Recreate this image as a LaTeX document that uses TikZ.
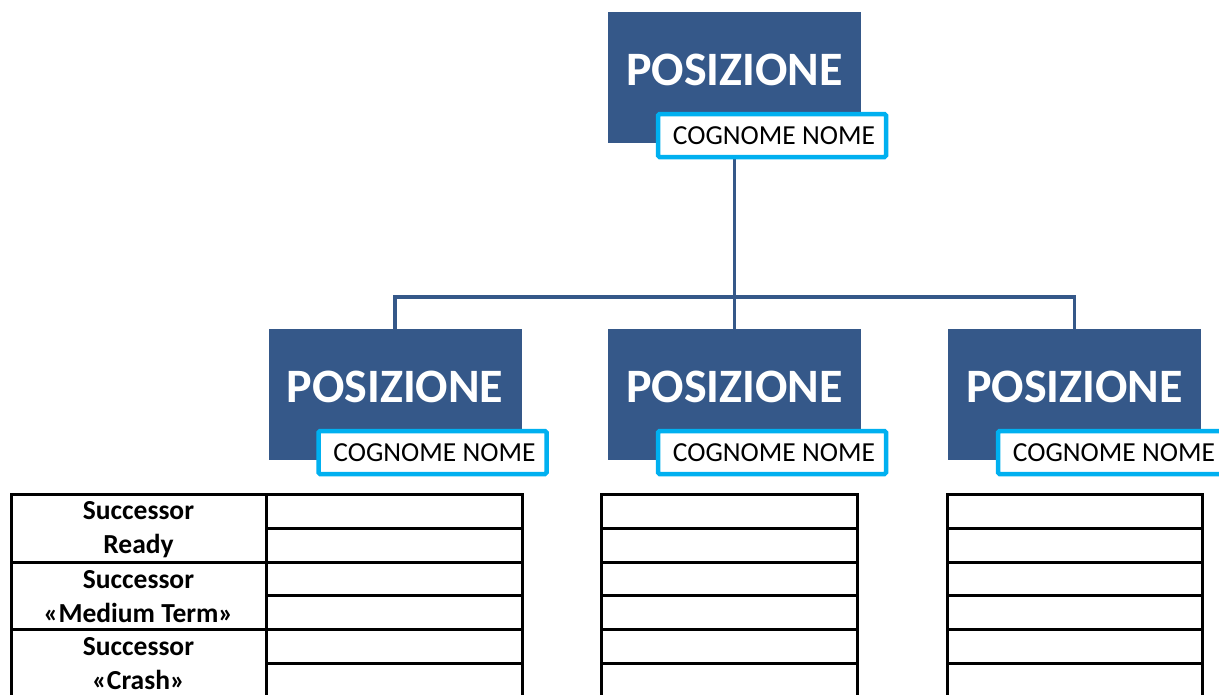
\documentclass[tikz,border=0pt]{standalone}
\usepackage{fontspec}
\setmainfont{Carlito}
\usetikzlibrary{calc}
\definecolor{boxblue}{RGB}{53,88,137}
\definecolor{nameblue}{RGB}{0,176,240}
\tikzset{
  posbox/.style={fill=boxblue, draw=none, minimum width=253pt, minimum height=131pt, inner sep=0pt},
  postext/.style={text=white, font=\fontsize{48}{52}\selectfont\bfseries, inner sep=0pt},
  namebox/.style={draw=nameblue, line width=4.5pt, fill=white, rounded corners=1.5pt, minimum width=228pt, minimum height=43pt, inner sep=0pt},
  nametext/.style={font=\fontsize{27.5}{30}\selectfont, anchor=west, inner sep=0pt},
  conn/.style={draw=boxblue, line width=3.5pt},
  grid/.style={draw=black, line width=3pt},
  lbl/.style={font=\fontsize{27.5}{34}\selectfont\bfseries, align=center, inner sep=0pt}
}
\begin{document}
\begin{tikzpicture}[x=1pt,y=-1pt]
\useasboundingbox (0,0) rectangle (1219,694);
% position boxes
\node[posbox] (p0) at (734.5,77.5) {};
\node[posbox] (p1) at (395,394.5) {};
\node[posbox] (p2) at (734.5,394.5) {};
\node[posbox] (p3) at (1074.5,394.5) {};
% connectors
\draw[conn] (p0.south) -- (p2.north);
\draw[conn] (p1.north) -- ++(0,-32) -| (p3.north);
% redraw boxes over line ends
\node[posbox] at (p0) {};
\node[posbox] at (p1) {};
\node[posbox] at (p2) {};
\node[posbox] at (p3) {};
\node[postext] (t0) at ($(p0.center)+(0,-8)$) {POSIZIONE};
\node[postext] (t1) at ($(p1.center)+(0,-8)$) {POSIZIONE};
\node[postext] (t2) at ($(p2.center)+(0,-8)$) {POSIZIONE};
\node[postext] (t3) at ($(p3.center)+(0,-8)$) {POSIZIONE};
% name boxes
\node[namebox] (n0) at (772,135.5) {};
\node[namebox] (n1) at (432.5,452.5) {};
\node[namebox] (n2) at (772,452.5) {};
\node[namebox] (n3) at (1112,452.5) {};
\node[nametext] (m0) at ($(n0.west)+(17,0)$) {COGNOME NOME};
\node[nametext] (m1) at ($(n1.west)+(17,0)$) {COGNOME NOME};
\node[nametext] (m2) at ($(n2.west)+(17,0)$) {COGNOME NOME};
\node[nametext] (m3) at ($(n3.west)+(17,0)$) {COGNOME NOME};
% left table
\draw[grid] (11,494) rectangle (522,698);
\draw[grid] (266,494) -- (266,698);
\foreach \y in {528,595,663} \draw[grid] (266,\y) -- (522,\y);
\foreach \y in {562,629} \draw[grid] (11,\y) -- (522,\y);
\node[lbl] (l1) at (138.5,530) {Successor\\Ready};
\node[lbl] (l2) at (138.5,597) {Successor\\«Medium Term»};
\node[lbl] (l3) at (138.5,664) {Successor\\«Crash»};
% middle and right tables
\foreach \xa/\xb in {601/857,947/1202}{
  \draw[grid] (\xa,494) rectangle (\xb,698);
  \foreach \y in {528,562,595,629,663} \draw[grid] (\xa,\y) -- (\xb,\y);
}
\end{tikzpicture}
\end{document}
